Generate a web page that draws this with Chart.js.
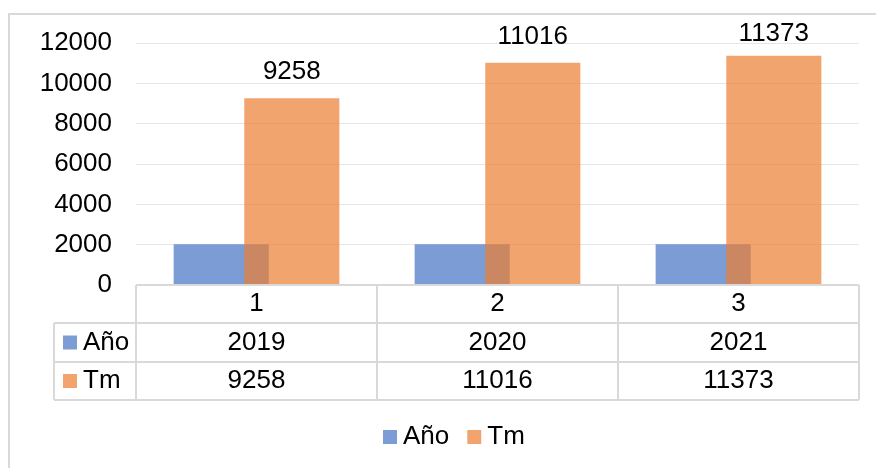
<!DOCTYPE html>
<html>
<head>
<meta charset="utf-8">
<script src="https://cdn.jsdelivr.net/npm/chart.js@4.4.1/dist/chart.umd.min.js"></script>
<style>
  html, body { margin: 0; padding: 0; background: #ffffff; }
  #wrap { width: 876px; height: 468px; }
</style>
</head>
<body>
<div id="wrap"><canvas id="chart" width="876" height="468"></canvas></div>
<script>
// Production data: year and tonnes per period
const categories = ['1', '2', '3'];
const seriesNames = ['Año', 'Tm'];
const years = [2019, 2020, 2021];
const tonnes = [9258, 11016, 11373];
const yMax = 12000;
const yStep = 2000;

const FONT = '"Liberation Sans", Arial, sans-serif';
const FONT_SIZE = 26;
const BLUE = 'rgba(68,114,196,0.7)';
const ORANGE = 'rgba(237,125,49,0.7)';
const LINE = '#d9d9d9';

// Draw datasets in index order so the Tm bars sit over the Año bars
const drawOrder = {
  id: 'drawOrder',
  beforeDatasetsDraw(chart) {
    const ctx = chart.ctx;
    const a = chart.chartArea;
    ctx.save();
    ctx.beginPath();
    ctx.rect(a.left, a.top - 40, a.right - a.left, a.bottom - a.top + 40);
    ctx.clip();
    chart.data.datasets.forEach((ds, i) => {
      const meta = chart.getDatasetMeta(i);
      if (!meta.hidden) meta.controller.draw();
    });
    ctx.restore();
    return false;
  }
};

// Outer frame
const frame = {
  id: 'frame',
  beforeDraw(chart) {
    const ctx = chart.ctx;
    ctx.save();
    ctx.strokeStyle = LINE;
    ctx.lineWidth = 2;
    ctx.strokeRect(9, 14, 900, 500);
    ctx.restore();
  }
};

// Value labels, data table and legend
const extras = {
  id: 'extras',
  afterDraw(chart) {
    const ctx = chart.ctx;
    const a = chart.chartArea;
    const xs = chart.scales.x;
    ctx.save();
    ctx.font = FONT_SIZE + 'px ' + FONT;
    ctx.fillStyle = '#000';
    ctx.textAlign = 'center';
    ctx.textBaseline = 'middle';

    // labels above the Tm bars
    const tmMeta = chart.getDatasetMeta(1);
    tmMeta.data.forEach((bar, i) => {
      const y = Math.max(bar.y - 26, a.top - 9);
      ctx.fillText(String(tonnes[i]), bar.x, y);
    });

    // data table
    const rows = [a.bottom, a.bottom + 38, a.bottom + 77, a.bottom + 115];
    const headLeft = 54;
    const n = categories.length;
    const colW = (a.right - a.left) / n;
    ctx.strokeStyle = LINE;
    ctx.lineWidth = 2;
    ctx.beginPath();
    ctx.moveTo(a.left, rows[0]); ctx.lineTo(a.right, rows[0]);
    for (let r = 1; r < rows.length; r++) {
      ctx.moveTo(headLeft, rows[r]); ctx.lineTo(a.right, rows[r]);
    }
    ctx.moveTo(headLeft, rows[1]); ctx.lineTo(headLeft, rows[3]);
    for (let c = 0; c <= n; c++) {
      const x = a.left + c * colW;
      ctx.moveTo(x, rows[0]); ctx.lineTo(x, rows[3]);
    }
    ctx.stroke();

    const rowVals = [categories, years, tonnes];
    rowVals.forEach((vals, r) => {
      const cy = (rows[r] + rows[r + 1]) / 2;
      vals.forEach((v, i) => {
        ctx.fillText(String(v), xs.getPixelForValue(i), cy);
      });
    });

    // series keys in the table
    const keyColors = [BLUE, ORANGE];
    seriesNames.forEach((name, s) => {
      const cy = (rows[s + 1] + rows[s + 2]) / 2;
      ctx.fillStyle = keyColors[s];
      ctx.fillRect(63, cy - 7, 14, 14);
      ctx.fillStyle = '#000';
      ctx.textAlign = 'left';
      ctx.fillText(name, 83, cy);
    });

    // legend
    const ly = 437;
    let lx = 383;
    seriesNames.forEach((name, s) => {
      ctx.fillStyle = keyColors[s];
      ctx.fillRect(lx, ly - 7, 14, 14);
      ctx.fillStyle = '#000';
      ctx.textAlign = 'left';
      ctx.fillText(name, lx + 20, ly);
      lx += 20 + ctx.measureText(name).width + 18;
    });
    ctx.restore();
  }
};

new Chart(document.getElementById('chart'), {
  type: 'bar',
  data: {
    labels: categories,
    datasets: [
      { label: seriesNames[0], data: years, backgroundColor: BLUE, borderWidth: 0 },
      { label: seriesNames[1], data: tonnes, backgroundColor: ORANGE, borderWidth: 0 }
    ]
  },
  options: {
    responsive: false,
    animation: false,
    devicePixelRatio: 1,
    categoryPercentage: 0.586,
    barPercentage: 1.347,
    layout: { padding: { left: 0, right: 17, top: 43, bottom: 183 } },
    plugins: { legend: { display: false }, tooltip: { enabled: false } },
    scales: {
      x: { display: false },
      y: {
        min: 0,
        max: yMax,
        ticks: {
          stepSize: yStep,
          color: '#000',
          padding: 24,
          font: { family: FONT, size: FONT_SIZE },
          callback: (v) => String(v)
        },
        grid: { color: '#e6e6e6', lineWidth: 1, drawTicks: false },
        border: { display: false },
        afterFit(scale) { scale.width = 136; }
      }
    }
  },
  plugins: [frame, drawOrder, extras]
});
</script>
</body>
</html>
